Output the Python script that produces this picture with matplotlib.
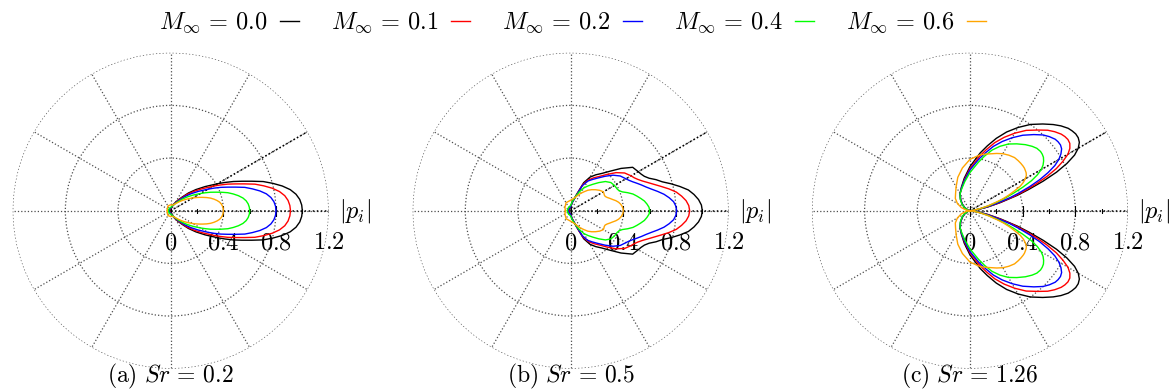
import numpy as np
import matplotlib.pyplot as plt
from matplotlib.lines import Line2D

plt.rcParams['mathtext.fontset'] = 'cm'
plt.rcParams['font.family'] = 'serif'

mach_labels = ['0.0', '0.1', '0.2', '0.4', '0.6']
colors = ['black', 'red', 'blue', '#00ff00', 'orange']
strouhal = ['0.2', '0.5', '1.26']
panel_tags = ['a', 'b', 'c']

# directivity |p_i| vs angle (deg), upper half; lower half is symmetric
theta_ab = [0, 2.5, 5, 7.5, 10, 12.5, 15, 17.5, 20, 22.5, 25, 27.5, 30, 35, 40, 45,
            50, 55, 60, 65, 70, 80, 90, 120, 150, 180]
theta_c = [0, 4, 8, 12, 15, 18, 20, 22, 24, 26, 28, 30, 32, 34, 36, 38, 40, 43, 46, 50,
           55, 60, 65, 70, 75, 80, 90, 100, 110, 120, 130, 140, 150, 160, 170, 180]

# Sr = 0.2
a_m00 = [1.00, 0.996, 0.984, 0.960, 0.922, 0.868, 0.803, 0.737, 0.655, 0.585, 0.525, 0.465, 0.41,
         0.32, 0.25, 0.19, 0.135, 0.10, 0.075, 0.055, 0.04, 0.02, 0.012, 0.01, 0.01, 0.01]
a_m01 = [0.91, 0.906, 0.895, 0.874, 0.839, 0.790, 0.731, 0.671, 0.596, 0.532, 0.478, 0.423, 0.373,
         0.291, 0.228, 0.173, 0.123, 0.091, 0.068, 0.05, 0.038, 0.022, 0.015, 0.012, 0.01, 0.01]
a_m02 = [0.80, 0.797, 0.787, 0.768, 0.738, 0.694, 0.642, 0.590, 0.524, 0.468, 0.42, 0.372, 0.328,
         0.256, 0.20, 0.152, 0.11, 0.082, 0.062, 0.048, 0.038, 0.025, 0.018, 0.015, 0.012, 0.012]
a_m04 = [0.60, 0.598, 0.591, 0.578, 0.557, 0.527, 0.492, 0.455, 0.41, 0.368, 0.332, 0.295, 0.262,
         0.207, 0.162, 0.125, 0.094, 0.072, 0.057, 0.047, 0.04, 0.03, 0.025, 0.02, 0.018, 0.017]
a_m06 = [0.40, 0.399, 0.395, 0.388, 0.377, 0.36, 0.34, 0.318, 0.292, 0.265, 0.24, 0.216, 0.195,
         0.157, 0.126, 0.10, 0.08, 0.066, 0.056, 0.05, 0.046, 0.044, 0.045, 0.042, 0.03, 0.026]

# Sr = 0.5
b_m00 = [1.00, 0.994, 0.975, 0.945, 0.908, 0.85, 0.79, 0.73, 0.69, 0.645, 0.618, 0.603, 0.593,
         0.575, 0.50, 0.425, 0.37, 0.333, 0.295, 0.235, 0.13, 0.06, 0.025, 0.015, 0.012, 0.012]
b_m01 = [0.904, 0.898, 0.88, 0.85, 0.815, 0.765, 0.712, 0.665, 0.625, 0.59, 0.563, 0.543, 0.53,
         0.50, 0.45, 0.39, 0.34, 0.305, 0.27, 0.22, 0.125, 0.06, 0.03, 0.02, 0.015, 0.015]
b_m02 = [0.805, 0.80, 0.785, 0.755, 0.72, 0.677, 0.635, 0.60, 0.572, 0.545, 0.52, 0.50, 0.485,
         0.46, 0.42, 0.37, 0.325, 0.29, 0.26, 0.21, 0.12, 0.06, 0.03, 0.02, 0.018, 0.018]
b_m04 = [0.60, 0.596, 0.582, 0.565, 0.54, 0.515, 0.49, 0.455, 0.418, 0.398, 0.39, 0.387, 0.384,
         0.373, 0.345, 0.302, 0.262, 0.23, 0.20, 0.16, 0.12, 0.07, 0.04, 0.03, 0.025, 0.025]
b_m06 = [0.40, 0.398, 0.392, 0.383, 0.37, 0.352, 0.33, 0.312, 0.295, 0.284, 0.282, 0.285, 0.287,
         0.27, 0.248, 0.226, 0.203, 0.175, 0.152, 0.13, 0.11, 0.09, 0.08, 0.07, 0.05, 0.04]

# Sr = 1.26
c_m00 = [0, 0.01, 0.05, 0.14, 0.24, 0.38, 0.48, 0.60, 0.72, 0.82, 0.90, 0.95, 0.98, 0.992,
         0.993, 0.985, 0.974, 0.945, 0.91, 0.86, 0.80, 0.73, 0.66, 0.585, 0.51, 0.445, 0.335,
         0.25, 0.19, 0.15, 0.11, 0.075, 0.045, 0.02, 0.008, 0]
c_m01 = [0, 0.01, 0.045, 0.13, 0.22, 0.35, 0.44, 0.54, 0.64, 0.73, 0.80, 0.86, 0.895, 0.915,
         0.92, 0.915, 0.905, 0.88, 0.85, 0.80, 0.745, 0.68, 0.615, 0.55, 0.48, 0.42, 0.32,
         0.24, 0.185, 0.15, 0.11, 0.075, 0.045, 0.02, 0.008, 0]
c_m02 = [0, 0.01, 0.045, 0.12, 0.20, 0.32, 0.40, 0.49, 0.58, 0.66, 0.73, 0.78, 0.815, 0.84,
         0.85, 0.85, 0.845, 0.825, 0.80, 0.755, 0.70, 0.64, 0.58, 0.52, 0.455, 0.40, 0.31,
         0.235, 0.185, 0.15, 0.11, 0.075, 0.045, 0.02, 0.008, 0]
c_m04 = [0, 0.01, 0.035, 0.09, 0.15, 0.23, 0.29, 0.36, 0.44, 0.52, 0.58, 0.625, 0.655, 0.675,
         0.69, 0.697, 0.70, 0.695, 0.68, 0.655, 0.62, 0.585, 0.54, 0.49, 0.43, 0.375, 0.29,
         0.225, 0.18, 0.15, 0.115, 0.08, 0.05, 0.02, 0.008, 0]
c_m06 = [0, 0.01, 0.03, 0.08, 0.14, 0.21, 0.27, 0.32, 0.37, 0.425, 0.46, 0.485, 0.505, 0.515,
         0.52, 0.525, 0.527, 0.528, 0.528, 0.527, 0.515, 0.50, 0.48, 0.46, 0.445, 0.43, 0.39,
         0.33, 0.27, 0.21, 0.17, 0.145, 0.11, 0.07, 0.03, 0]

panels = [
    (theta_ab, [a_m00, a_m01, a_m02, a_m04, a_m06]),
    (theta_ab, [b_m00, b_m01, b_m02, b_m04, b_m06]),
    (theta_c, [c_m00, c_m01, c_m02, c_m04, c_m06]),
]

r_major = [0, 0.4, 0.8, 1.2]
r_minor = [0.2, 0.6, 1.0]
r_labels = ['0', '0.4', '0.8', '1.2']
FS = 17.5


def mirrored(th_deg, r):
    th = np.deg2rad(np.asarray(th_deg, dtype=float))
    r = np.asarray(r, dtype=float)
    return np.concatenate([-th[::-1], th[1:]]), np.concatenate([r[::-1], r[1:]])


fig = plt.figure(figsize=(11.72, 3.92), dpi=100)

lefts = [0.01084, 0.3521, 0.6928]
w, h, bottom = 0.2696, 0.8061, 0.0594

for k, (th, series) in enumerate(panels):
    ax = fig.add_axes([lefts[k], bottom, w, h], projection='polar')
    ax.set_ylim(0, 1.2)
    ax.set_yticks([0.4, 0.8, 1.2])
    ax.set_yticklabels([])
    ax.set_xticks(np.deg2rad(np.arange(0, 360, 30)))
    ax.set_xticklabels([])
    ax.grid(True, color='0.3', linestyle=':', linewidth=0.9)
    ax.spines['polar'].set_visible(False)

    # radial axis along 0 deg and the 30 deg reference line
    ax.plot([0, 0], [0, 1.2], color='k', linestyle=':', linewidth=1.1, zorder=3)
    ax.plot([np.pi / 6, np.pi / 6], [0, 1.2], color='k', linestyle=':', linewidth=1.1, zorder=3)
    ax.plot(np.zeros(len(r_major)), r_major, 'k|', ms=7, mew=0.8, zorder=3)
    ax.plot(np.zeros(len(r_minor)), r_minor, 'k|', ms=3.5, mew=0.8, zorder=3)
    for r, s in zip(r_major, r_labels):
        ax.annotate(f'${s}$', (0, r), xytext=(0, -32), textcoords='offset pixels',
                    ha='center', va='center', fontsize=FS, annotation_clip=False)
    ax.annotate(r'$|p_i|$', (0, 1.2), xytext=(10, 0), textcoords='offset pixels',
                ha='left', va='center', fontsize=FS, annotation_clip=False)

    for r, col in zip(series, colors):
        t, rr = mirrored(th, r)
        ax.plot(t, rr, color=col, linewidth=1.0, zorder=4)

    cx = lefts[k] + w / 2
    fig.text(cx, 0.024, r'$\mathrm{(%s)}\ Sr\,=\,%s$' % (panel_tags[k], strouhal[k]),
             ha='center', va='baseline', fontsize=17)

handles = [Line2D([], [], color=c, linewidth=1.0) for c in colors]
labels = [r'$M_\infty\,=\,%s$' % m for m in mach_labels]
fig.legend(handles, labels, loc='center', bbox_to_anchor=(0.4885, 0.941), ncol=5,
           frameon=False, markerfirst=False, handlelength=0.8, handletextpad=0.5,
           columnspacing=1.3, fontsize=FS)

fig.savefig('out.png', dpi=100)
